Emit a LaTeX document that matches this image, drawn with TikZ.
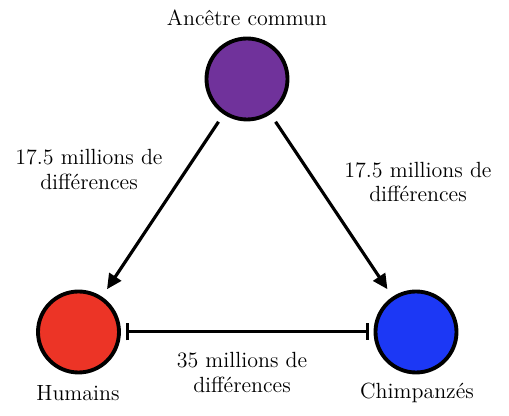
\documentclass[tikz,border=0pt]{standalone}
\usepackage{tikz}
\usetikzlibrary{arrows.meta, positioning}

\definecolor{ancpurple}{RGB}{112,50,155}
\definecolor{humred}{RGB}{236,52,38}
\definecolor{chimpblue}{RGB}{28,56,245}

\begin{document}
\begin{tikzpicture}[
      species/.style={circle, draw=black, line width=2.2pt, inner sep=0pt, minimum size=1.62cm},
      txt/.style={align=center, font=\fontsize{12.5}{14.2}\selectfont},
      link/.style={line width=1.8pt, -{Triangle[length=0.3cm, width=0.28cm]}, shorten <=0.18cm, shorten >=0.18cm},
      dist/.style={line width=1.7pt, {Bar[width=0.34cm, line width=1.7pt]}-{Bar[width=0.34cm, line width=1.7pt]}, shorten <=0.1cm, shorten >=0.1cm}]

      \useasboundingbox (0,0) rectangle (10.18,8.32);

      \node[species, fill=ancpurple] (anc) at (4.94,6.74) {};
      \node[species, fill=humred] (hum) at (1.57,1.68) {};
      \node[species, fill=chimpblue] (chimp) at (8.32,1.68) {};

      % Names
      \node[txt] (anclabel) at (4.94,7.96) {Ancêtre commun};
      \node[txt] (humlabel) at (1.56,0.46) {Humains};
      \node[txt] (chimplabel) at (8.34,0.46) {Chimpanzés};

      % Arrows
      \draw[link] (anc) -- (hum);
      \draw[link] (anc) -- (chimp);
      \draw[dist] (hum) -- (chimp);

      % Annotations
      \node[txt] (leftdiff) at (1.78,4.93) {17.5 millions de\\ différences};
      \node[txt] (rightdiff) at (8.36,4.68) {17.5 millions de\\ différences};
      \node[txt] (bottomdiff) at (4.84,0.87) {35 millions de\\ différences};
    \end{tikzpicture}
\end{document}
